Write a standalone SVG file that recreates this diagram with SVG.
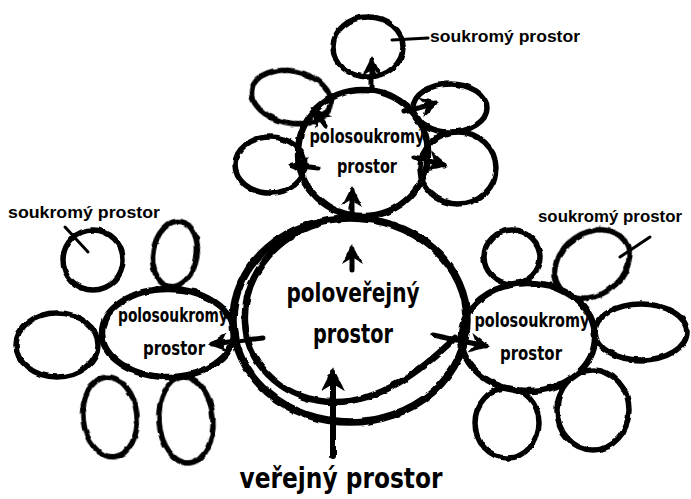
<svg xmlns="http://www.w3.org/2000/svg" width="691" height="499" viewBox="0 0 691 499">
<style>
.sh{fill:none;stroke:#000;stroke-linecap:round;stroke-linejoin:round;filter:url(#rough)}
.p{stroke-width:5.5}
.m{stroke-width:6.5}
.c{stroke-width:7.5}
.ln{fill:none;stroke:#000;stroke-width:5;stroke-linecap:round;filter:url(#rough)}
.ld{fill:none;stroke:#000;stroke-width:3;stroke-linecap:round}
text{font-family:"DejaVu Sans","Liberation Sans",sans-serif;font-weight:bold;fill:#000;text-anchor:middle}
.t1{font-size:19px}
.t2{font-size:26px}
.t3{font-size:28px}
.lb{font-family:"Liberation Sans","DejaVu Sans",sans-serif;font-size:16.5px;text-anchor:start}
</style>
<defs>
<filter id="rough" filterUnits="userSpaceOnUse" x="0" y="0" width="691" height="499">
<feTurbulence type="fractalNoise" baseFrequency="0.09" numOctaves="2" seed="4" result="n"/>
<feDisplacementMap in="SourceGraphic" in2="n" scale="3.5" xChannelSelector="R" yChannelSelector="G"/>
</filter>
<marker id="ah" viewBox="0 0 10 10" refX="8" refY="5" markerWidth="4" markerHeight="4" orient="auto" markerUnits="strokeWidth">
<path d="M0,0 L10,5 L0,10 L3,5 Z" fill="#000"/>
</marker>
</defs>
<rect width="691" height="499" fill="#fff"/>

<g id="connectors">
<line class="ln" x1="333" y1="456" x2="333" y2="372" marker-end="url(#ah)" style="stroke-width:6"/>
<line class="ln" x1="352" y1="270" x2="352" y2="248" marker-end="url(#ah)"/>
<line class="ln" x1="352" y1="214" x2="352" y2="190" marker-end="url(#ah)"/>
<line class="ln" x1="372" y1="90" x2="372" y2="60" marker-end="url(#ah)"/>
<line class="ln" x1="326" y1="126" x2="314" y2="110" marker-end="url(#ah)"/>
<line class="ln" x1="318" y1="168" x2="292" y2="165" marker-end="url(#ah)"/>
<line class="ln" x1="404" y1="112" x2="436" y2="103" marker-end="url(#ah)"/>
<line class="ln" x1="414" y1="157" x2="444" y2="165" marker-end="url(#ah)"/>
<line class="ln" x1="263" y1="338" x2="212" y2="344" marker-end="url(#ah)"/>
<line class="ln" x1="433" y1="335" x2="486" y2="346" marker-end="url(#ah)"/>
<line class="ld" x1="392" y1="40" x2="428" y2="38"/>
<line class="ld" x1="65" y1="227" x2="88" y2="252"/>
<line class="ld" x1="650" y1="237" x2="620" y2="257"/>
</g>

<g id="center">
<ellipse class="sh c" cx="350" cy="320" rx="117" ry="102"/>
<path class="sh m" d="M318,224 C270,240 243,280 245,322 C247,370 290,402 335,402 C380,402 420,372 455,338"/>
<text class="t2" x="353" y="302" textLength="133" lengthAdjust="spacingAndGlyphs">poloveřejný</text>
<text class="t2" x="353" y="343" textLength="80" lengthAdjust="spacingAndGlyphs">prostor</text>
</g>

<g id="top-cluster">
<ellipse class="sh m" cx="363" cy="153" rx="65" ry="63"/>
<text class="t1" x="367" y="143" textLength="115" lengthAdjust="spacingAndGlyphs">polosoukromý</text>
<text class="t1" x="367" y="173" textLength="60" lengthAdjust="spacingAndGlyphs">prostor</text>
</g>
<g id="top-private-1"><ellipse class="sh p" cx="368" cy="47" rx="35" ry="30"/></g>
<g id="top-private-2"><ellipse class="sh p" cx="291" cy="97" rx="40" ry="26" transform="rotate(12 291 97)"/></g>
<g id="top-private-3"><ellipse class="sh p" cx="270" cy="165" rx="35" ry="28"/></g>
<g id="top-private-4"><ellipse class="sh p" cx="450" cy="108" rx="37" ry="24"/></g>
<g id="top-private-5"><ellipse class="sh p" cx="458" cy="168" rx="38" ry="36"/></g>
<g id="top-label"><text class="lb" x="430" y="42" textLength="150" lengthAdjust="spacingAndGlyphs">soukromý prostor</text></g>

<g id="left-cluster">
<ellipse class="sh m" cx="168" cy="333" rx="66" ry="44"/>
<text class="t1" x="173" y="322" textLength="110" lengthAdjust="spacingAndGlyphs">polosoukromý</text>
<text class="t1" x="174" y="355" textLength="62" lengthAdjust="spacingAndGlyphs">prostor</text>
</g>
<g id="left-private-1"><ellipse class="sh p" cx="93" cy="260" rx="30" ry="30"/></g>
<g id="left-private-2"><ellipse class="sh p" cx="175" cy="254" rx="22" ry="33" transform="rotate(10 175 254)"/></g>
<g id="left-private-3"><ellipse class="sh p" cx="57" cy="345" rx="41" ry="32"/></g>
<g id="left-private-4"><ellipse class="sh p" cx="110" cy="417" rx="27" ry="40" transform="rotate(-6 110 417)"/></g>
<g id="left-private-5"><ellipse class="sh p" cx="186" cy="420" rx="27" ry="43" transform="rotate(-4 186 420)"/></g>
<g id="left-label"><text class="lb" x="8" y="218" textLength="152" lengthAdjust="spacingAndGlyphs">soukromý prostor</text></g>

<g id="right-cluster">
<ellipse class="sh m" cx="528" cy="337" rx="67" ry="54"/>
<text class="t1" x="532" y="327" textLength="115" lengthAdjust="spacingAndGlyphs">polosoukromý</text>
<text class="t1" x="531" y="360" textLength="62" lengthAdjust="spacingAndGlyphs">prostor</text>
</g>
<g id="right-private-1"><ellipse class="sh p" cx="512" cy="257" rx="28" ry="27"/></g>
<g id="right-private-2"><ellipse class="sh p" cx="592" cy="264" rx="40" ry="31" transform="rotate(-35 592 264)"/></g>
<g id="right-private-3"><ellipse class="sh p" cx="641" cy="332" rx="46" ry="28"/></g>
<g id="right-private-4"><ellipse class="sh p" cx="507" cy="423" rx="32" ry="35"/></g>
<g id="right-private-5"><ellipse class="sh p" cx="593" cy="410" rx="36" ry="40"/></g>
<g id="right-label"><text class="lb" x="538" y="222" textLength="144" lengthAdjust="spacingAndGlyphs">soukromý prostor</text></g>

<g id="public">
<text class="t3" x="341" y="488" textLength="203" lengthAdjust="spacingAndGlyphs">veřejný prostor</text>
</g>
</svg>
